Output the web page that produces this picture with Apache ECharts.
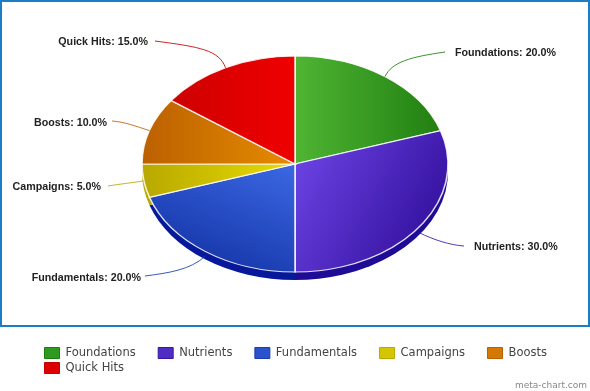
<!DOCTYPE html>
<html><head><meta charset="utf-8">
<style>html,body{margin:0;padding:0;background:#fff}#c{width:590px;height:391px}</style>
<script src="https://cdn.jsdelivr.net/npm/echarts@6/dist/echarts.min.js"></script>
</head><body><div id="c"></div>
<script>
const categories = ['Foundations','Nutrients','Fundamentals','Campaigns','Boosts','Quick Hits'];
const values = [20,30,20,5,10,15];
const lightColors = ['#4fb533','#6a42e2','#3c68e4','#e8dc00','#e68c00','#f00000'];
const darkColors  = ['#1f7d10','#3a16a6','#1a3cb0','#b8a800','#bb6000','#c40000'];
const swatchColors = ['#2f9a22','#4f2cc4','#2a52cc','#d4c600','#d47800','#dc0000'];
const sideColors  = ['#156008','#1f0c96','#08189a','#b8a800','#8a4800','#8a0000'];
const gradEnd = [[1,0],[0.9,0.35],[-0.5,0.85],[-1,0],[-1,0],[-1,0]];
const labelCfg = [
  {x:455,y:53,align:'left', c1:[392,62],c2:[410,57],e:[445,52]},
  {x:474,y:247,align:'left',c1:[434,240],c2:[450,245],e:[464,246]},
  {x:141,y:278,align:'right',c1:[190,270],c2:[168,273],e:[145,276]},
  {x:101,y:187,align:'right',c1:[130,183],c2:[120,184],e:[108,186]},
  {x:107,y:123,align:'right',c1:[135,126],c2:[125,122],e:[112,121]},
  {x:148,y:42,align:'right',c1:[219,50],c2:[200,47],e:[155,41]}
];
const geo = {cx:295,cy:164,rx:153,ry:108,depth:8,anchorDrop:5};
const total = values.reduce((a,b)=>a+b,0);
function angles(i){
  let s=0; for(let k=0;k<i;k++) s+=values[k];
  return [s/total*Math.PI*2-Math.PI/2,(s+values[i])/total*Math.PI*2-Math.PI/2];
}
function topFace(i){
  const [a,b]=angles(i);
  return {type:'sector',shape:{cx:0,cy:0,r:geo.rx,r0:0,startAngle:a,endAngle:b,clockwise:true},
    style:{fill:{type:'linear',x:0,y:0,x2:geo.rx*gradEnd[i][0],y2:geo.rx*gradEnd[i][1],global:true,colorStops:[{offset:0,color:lightColors[i]},{offset:1,color:darkColors[i]}]},
      stroke:'rgba(255,255,255,0.85)',lineWidth:1.6}};
}
function leader(i){
  const [a,b]=angles(i), m=(a+b)/2, cfg=labelCfg[i];
  const lower=Math.sin(m)>0.5;
  const x=geo.cx+geo.rx*Math.cos(m), y=geo.cy+geo.ry*Math.sin(m)+(lower?geo.anchorDrop:0);
  return [
    {type:'bezierCurve',shape:{x1:x,y1:y,cpx1:cfg.c1[0],cpy1:cfg.c1[1],cpx2:cfg.c2[0],cpy2:cfg.c2[1],x2:cfg.e[0],y2:cfg.e[1]},
      style:{fill:null,stroke:darkColors[i],lineWidth:1,opacity:0.85}},
    {type:'text',style:{x:cfg.x,y:cfg.y,text:categories[i]+': '+values[i].toFixed(1)+'%',align:cfg.align,verticalAlign:'middle',
      fontFamily:'Arial, "Liberation Sans", sans-serif',fontSize:10.7,fontWeight:'bold',fill:'#222'}}
  ];
}
const series=[{
  type:'custom',name:'_side',coordinateSystem:'none',silent:true,data:[[0]],
  renderItem(){
    return {type:'group',x:geo.cx,y:geo.cy+geo.depth,scaleY:geo.ry/geo.rx,children:categories.map((n,i)=>{
      const [a,b]=angles(i);
      return {type:'sector',shape:{cx:0,cy:0,r:geo.rx,r0:0,startAngle:a,endAngle:b,clockwise:true},style:{fill:sideColors[i]}};
    })};
  }
}];
categories.forEach((name,i)=>{
  series.push({type:'custom',name,coordinateSystem:'none',silent:true,itemStyle:{color:lightColors[i]},data:[[values[i]]],
    renderItem(){
      return {type:'group',x:geo.cx,y:geo.cy,scaleY:geo.ry/geo.rx,children:[topFace(i)]};
    }});
});
series.push({type:'custom',name:'_labels',coordinateSystem:'none',silent:true,data:[[0]],
  renderItem(){return {type:'group',children:categories.flatMap((n,i)=>leader(i))};}});
function legendItem(name){
  const i=categories.indexOf(name);
  return {name,itemStyle:{color:swatchColors[i],borderColor:darkColors[i],borderWidth:1}};
}
const legendBase={orient:'horizontal',itemWidth:15,itemHeight:11,itemGap:22,selectedMode:false,icon:'rect',
  textStyle:{fontFamily:'DejaVu Sans',fontSize:11.5,color:'#444',padding:[0,0,0,1]},padding:0};
const chart=echarts.init(document.getElementById('c'),null,{renderer:'canvas'});
chart.setOption({
  animation:false,backgroundColor:'#fff',
  legend:[
    Object.assign({},legendBase,{left:44,top:347,data:categories.slice(0,5).map(legendItem)}),
    Object.assign({},legendBase,{left:44,top:362,data:categories.slice(5).map(legendItem)})
  ],
  graphic:[
    {type:'rect',silent:true,shape:{x:1,y:1,width:588,height:325},style:{fill:'none',stroke:'#1c7cc4',lineWidth:2}},
    {type:'text',silent:true,style:{x:587,y:386,text:'meta-chart.com',align:'right',verticalAlign:'middle',fontFamily:'DejaVu Sans',fontSize:9,fill:'#888'}}
  ],
  series
});
</script></body></html>
